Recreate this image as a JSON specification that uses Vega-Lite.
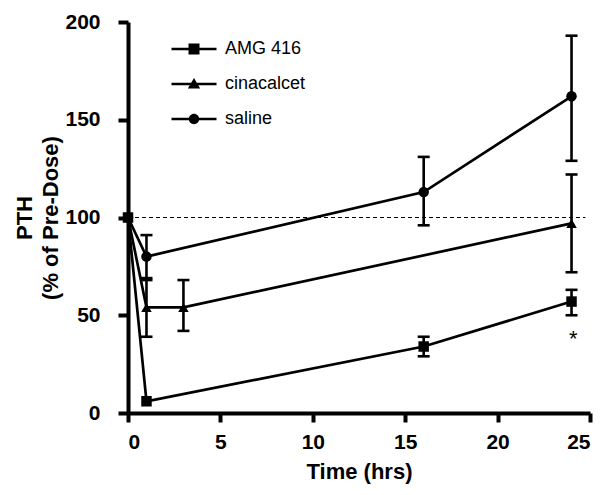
{
  "$schema": "https://vega.github.io/schema/vega-lite/v6.json",
  "width": 462,
  "height": 391,
  "autosize": "none",
  "padding": {"left": 128, "top": 22, "right": 10, "bottom": 82},
  "config": {
    "view": {"stroke": null},
    "font": "Liberation Sans",
    "axis": {
      "grid": false,
      "domainColor": "black",
      "domainWidth": 4,
      "tickColor": "black",
      "tickWidth": 4,
      "tickSize": 9,
      "labelFont": "Liberation Sans",
      "labelFontWeight": "bold",
      "labelFontSize": 21,
      "labelColor": "black",
      "titleFont": "Liberation Sans",
      "titleFontWeight": "bold",
      "titleFontSize": 22,
      "titleColor": "black"
    }
  },
  "resolve": {"scale": {"shape": "independent"}, "legend": {"shape": "independent"}},
  "datasets": {
    "pth": [
      {"series": "AMG 416", "t": 0, "v": 100},
      {"series": "AMG 416", "t": 1, "v": 6},
      {"series": "AMG 416", "t": 16, "v": 34, "lo": 29, "hi": 39},
      {"series": "AMG 416", "t": 24, "v": 57, "lo": 50, "hi": 63},
      {"series": "cinacalcet", "t": 0, "v": 100},
      {"series": "cinacalcet", "t": 1, "v": 54, "lo": 39, "hi": 69},
      {"series": "cinacalcet", "t": 3, "v": 54, "lo": 42, "hi": 68},
      {"series": "cinacalcet", "t": 24, "v": 97, "lo": 72, "hi": 122},
      {"series": "saline", "t": 0, "v": 100},
      {"series": "saline", "t": 1, "v": 80, "lo": 68, "hi": 91},
      {"series": "saline", "t": 16, "v": 113, "lo": 96, "hi": 131},
      {"series": "saline", "t": 24, "v": 162, "lo": 129, "hi": 193}
    ],
    "note": [{"t": 24.1, "v": 38, "label": "*"}],
    "ref": [{"name": "pre-dose", "level": 100, "start": 0, "end": 24.75}]
  },
  "layer": [
    {
      "data": {"name": "ref"},
      "mark": {"type": "rule", "strokeDash": [4, 3], "strokeWidth": 1.2, "color": "black"},
      "encoding": {
        "x": {"field": "start", "type": "quantitative"},
        "x2": {"field": "end"},
        "y": {"field": "level", "type": "quantitative"}
      }
    },
    {
      "data": {"name": "pth"},
      "transform": [{"filter": "isValid(datum.lo)"}],
      "mark": {"type": "rule", "strokeWidth": 2.6, "color": "black"},
      "encoding": {
        "x": {"field": "t", "type": "quantitative"},
        "y": {"field": "lo", "type": "quantitative"},
        "y2": {"field": "hi"}
      }
    },
    {
      "data": {"name": "pth"},
      "transform": [{"filter": "isValid(datum.lo)"}],
      "mark": {"type": "tick", "orient": "horizontal", "size": 12, "thickness": 2.6, "color": "black", "opacity": 1},
      "encoding": {
        "x": {"field": "t", "type": "quantitative"},
        "y": {"field": "lo", "type": "quantitative"}
      }
    },
    {
      "data": {"name": "pth"},
      "transform": [{"filter": "isValid(datum.hi)"}],
      "mark": {"type": "tick", "orient": "horizontal", "size": 12, "thickness": 2.6, "color": "black", "opacity": 1},
      "encoding": {
        "x": {"field": "t", "type": "quantitative"},
        "y": {"field": "hi", "type": "quantitative"}
      }
    },
    {
      "data": {"name": "pth"},
      "mark": {"type": "line", "strokeWidth": 2.7, "color": "black"},
      "encoding": {
        "x": {"field": "t", "type": "quantitative"},
        "y": {"field": "v", "type": "quantitative"},
        "detail": {"field": "series"},
        "order": {"field": "t"}
      }
    },
    {
      "data": {"name": "pth"},
      "mark": {"type": "point", "filled": true, "size": 110, "color": "black", "opacity": 1},
      "encoding": {
        "x": {
          "field": "t", "type": "quantitative",
          "scale": {"domain": [0, 25], "nice": false, "zero": false},
          "axis": {"title": "Time (hrs)", "values": [0, 5, 10, 15, 20, 25], "labelPadding": 9, "titlePadding": 9}
        },
        "y": {
          "field": "v", "type": "quantitative",
          "scale": {"domain": [0, 200], "nice": false},
          "axis": {"title": ["PTH", "(% of Pre-Dose)"], "values": [0, 50, 100, 150, 200], "tickSize": 10, "labelPadding": 18, "titlePadding": 2, "titleLineHeight": 26}
        },
        "shape": {
          "field": "series", "type": "nominal",
          "scale": {"domain": ["AMG 416", "cinacalcet", "saline"], "range": ["square", "triangle-up", "circle"]},
          "legend": null
        }
      }
    },
    {
      "data": {"name": "pth"},
      "transform": [{"filter": "false"}],
      "mark": {"type": "point", "filled": true, "color": "black", "opacity": 1},
      "encoding": {
        "x": {"field": "t", "type": "quantitative"},
        "y": {"field": "v", "type": "quantitative"},
        "shape": {
          "field": "series", "type": "nominal",
          "scale": {
            "domain": ["AMG 416", "cinacalcet", "saline"],
            "range": [
              "M-2.25,-0.13H2.25V0.13H-2.25ZM-0.55,-0.55H0.55V0.55H-0.55Z",
              "M-2.25,-0.13H2.25V0.13H-2.25ZM0,-0.6L0.62,0.45H-0.62Z",
              "M-2.25,-0.13H2.25V0.13H-2.25ZM0.52,0A0.52,0.52,0,1,1,-0.52,0A0.52,0.52,0,1,1,0.52,0Z"
            ]
          },
          "legend": {
            "orient": "none",
            "legendX": 55,
            "legendY": 16,
            "title": null,
            "padding": 0,
            "labelFont": "Liberation Sans",
            "labelFontSize": 18,
            "labelColor": "black",
            "symbolSize": 400,
            "symbolFillColor": "black",
            "symbolStrokeColor": "black",
            "labelOffset": 20,
            "rowPadding": 15
          }
        }
      }
    },
    {
      "data": {"name": "note"},
      "mark": {"type": "text", "fontSize": 22, "font": "Liberation Sans", "color": "black", "baseline": "middle"},
      "encoding": {
        "x": {"field": "t", "type": "quantitative"},
        "y": {"field": "v", "type": "quantitative"},
        "text": {"field": "label"}
      }
    }
  ]
}
